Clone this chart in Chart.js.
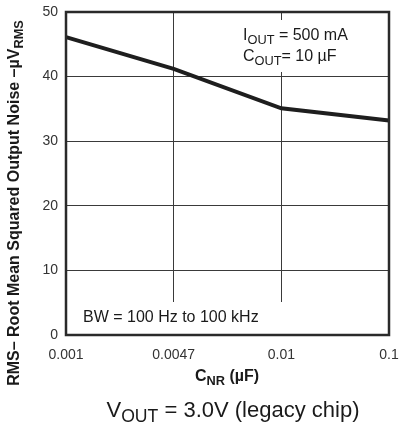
<!DOCTYPE html>
<html>
<head>
<meta charset="utf-8">
<script src="https://cdn.jsdelivr.net/npm/chart.js@4"></script>
<style>
  html, body { margin: 0; padding: 0; background: #fff; }
  #wrap { width: 401px; height: 424px; }
</style>
</head>
<body>
<div id="wrap"><canvas id="noiseChart" width="401" height="424"></canvas></div>
<script>
// C_NR values (uF) - plotted evenly spaced like the datasheet
const capLabels = ["0.001", "0.0047", "0.01", "0.1"];
// RMS output noise (uVrms)
const noiseValues = [46.1, 41.2, 35.1, 33.2];
const yTicks = [0, 10, 20, 30, 40, 50];

const FONT = "Arial, 'Liberation Sans', sans-serif";

// draw text with subscript parts: parts = [[text, isSub], ...]
function drawRich(ctx, parts, x, y, size, bold, align) {
    const fontFor = sub => (bold ? "bold " : "") + (sub ? size * 0.8 : size) + "px " + FONT;
    let total = 0;
    parts.forEach(p => { ctx.font = fontFor(p[1]); total += ctx.measureText(p[0]).width; });
    let cx = align === "center" ? x - total / 2 : x;
    ctx.textAlign = "left";
    ctx.textBaseline = "alphabetic";
    parts.forEach(p => {
        ctx.font = fontFor(p[1]);
        ctx.fillText(p[0], cx, p[1] ? y + size * 0.22 : y);
        cx += ctx.measureText(p[0]).width;
    });
}

const extras = {
    id: "extras",
    beforeDatasetsDraw(chart) {
        const ctx = chart.ctx;
        const a = chart.chartArea;
        const xs = chart.scales.x;
        ctx.save();
        ctx.fillStyle = "#fff";
        // label boxes hide the grid behind them
        ctx.fillRect(240, 20, 114, 52);
        ctx.fillRect(a.left + 2, 302, xs.getPixelForValue(2) + 1 - a.left - 2, a.bottom - 302 - 1);
        ctx.restore();
    },
    afterDraw(chart) {
        const ctx = chart.ctx;
        const a = chart.chartArea;
        ctx.save();
        ctx.strokeStyle = "#2a2a2a";
        ctx.lineWidth = 2.5;
        ctx.strokeRect(a.left, a.top, a.right - a.left, a.bottom - a.top);

        ctx.fillStyle = "#1a1a1a";
        drawRich(ctx, [["I", false], ["OUT", true], [" = 500 mA", false]], 243, 40, 16, false, "left");
        drawRich(ctx, [["C", false], ["OUT", true], ["= 10 µF", false]], 243, 61, 16, false, "left");
        drawRich(ctx, [["BW = 100 Hz to 100 kHz", false]], 83, 322, 16, false, "left");

        // x axis title
        drawRich(ctx, [["C", false], ["NR", true], [" (µF)", false]], 227, 381, 16, true, "center");

        // y axis title
        ctx.save();
        ctx.translate(19, 203);
        ctx.rotate(-Math.PI / 2);
        drawRich(ctx, [["RMS– Root Mean Squared Output Noise –µV", false], ["RMS", true]], 0, 0, 16, true, "center");
        ctx.restore();

        // footer
        drawRich(ctx, [["V", false], ["OUT", true], [" = 3.0V (legacy chip)", false]], 233, 417, 22, false, "center");
        ctx.restore();
    }
};

new Chart(document.getElementById("noiseChart"), {
    type: "line",
    data: {
        labels: capLabels,
        datasets: [{
            data: noiseValues,
            borderColor: "#1e1e1e",
            borderWidth: 4,
            pointRadius: 0,
            fill: false,
            tension: 0
        }]
    },
    options: {
        responsive: false,
        animation: false,
        events: [],
        layout: { padding: { top: 12, right: 12, bottom: 0, left: 0 } },
        plugins: { legend: { display: false }, tooltip: { enabled: false } },
        scales: {
            x: {
                type: "category",
                offset: false,
                grid: { color: "#3a3a3a", lineWidth: 1, drawTicks: false },
                border: { display: false },
                ticks: { color: "#333", font: { family: FONT, size: 14 }, padding: 12, maxRotation: 0, autoSkip: false },
                afterFit(s) { s.height = 89; s.paddingLeft = 0; s.paddingRight = 0; }
            },
            y: {
                min: 0,
                max: 50,
                afterBuildTicks(s) { s.ticks = yTicks.map(v => ({ value: v })); },
                grid: { color: "#3a3a3a", lineWidth: 1, drawTicks: false },
                border: { display: false },
                ticks: { color: "#333", font: { family: FONT, size: 14 }, padding: 8 },
                afterFit(s) { s.width = 66; s.paddingTop = 0; s.paddingBottom = 0; }
            }
        }
    },
    plugins: [extras]
});
</script>
</body>
</html>
